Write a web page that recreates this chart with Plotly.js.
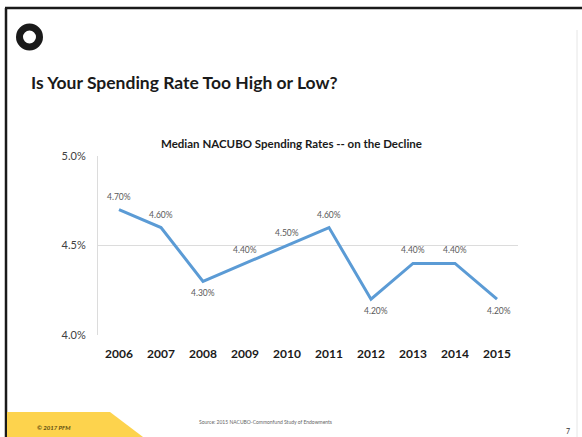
<!DOCTYPE html>
<html>
<head>
<meta charset="utf-8">
<script src="https://cdn.plot.ly/plotly-3.0.1.min.js"></script>
<style>
html,body{margin:0;padding:0;background:#fff;}
#chart{width:582px;height:437px;}
</style>
</head>
<body>
<div id="chart"></div>
<script>
// Data
const years = ['2006','2007','2008','2009','2010','2011','2012','2013','2014','2015'];
const rates = [4.70, 4.60, 4.30, 4.40, 4.50, 4.60, 4.20, 4.40, 4.40, 4.20];
const rateLabels = ['4.70%','4.60%','4.30%','4.40%','4.50%','4.60%','4.20%','4.40%','4.40%','4.20%'];
const labelSide = ['above','above','below','above','above','above','below','above','above','below'];
const yTicks = [4.0, 4.5, 5.0];
const yTickText = ['4.0%', '4.5%', '5.0%'];

// Layout geometry (pixels)
const WIDTH = 582, HEIGHT = 437;
const L = 98, R = 518, T = 156, B = 335;
const px = x => (x - L) / (R - L);
const py = y => (B - y) / (B - T);
const FONT = 'Lato, "Open Sans", sans-serif';

const trace = {
  x: years,
  y: rates,
  type: 'scatter',
  mode: 'lines',
  line: {color: '#5b9bd5', width: 3},
  cliponaxis: false,
  hoverinfo: 'none'
};

const shapes = [
  {type: 'line', xref: 'paper', yref: 'paper', x0: px(5), x1: px(582), y0: py(8), y1: py(8), line: {color: '#1a1a1a', width: 2.5}},
  {type: 'line', xref: 'paper', yref: 'paper', x0: px(6), x1: px(6), y0: py(8), y1: py(437), line: {color: '#1a1a1a', width: 2.5}},
  {type: 'line', xref: 'paper', yref: 'paper', x0: px(577), x1: px(577), y0: py(30), y1: py(437), line: {color: '#e6e6e6', width: 1}},
  {type: 'path', xref: 'paper', yref: 'paper',
   path: 'M ' + px(7) + ',' + py(412) + ' L ' + px(110) + ',' + py(412) + ' L ' + px(143) + ',' + py(437) + ' L ' + px(7) + ',' + py(437) + ' Z',
   fillcolor: '#fdd34d', line: {width: 0}},
  {type: 'circle', xref: 'paper', yref: 'paper', x0: px(19.5), x1: px(39.5), y0: py(27), y1: py(47),
   fillcolor: 'rgba(0,0,0,0)', line: {color: '#1a1a1a', width: 7}}
];

const annotations = [
  {text: 'Is Your Spending Rate Too High or Low?', xref: 'paper', yref: 'paper', x: px(29), y: py(83),
   xanchor: 'left', yanchor: 'middle', showarrow: false,
   font: {family: FONT, size: 17.5, color: '#1a1a1a', weight: 'bold'}},
  {text: 'Median NACUBO Spending Rates -- on the Decline', xref: 'paper', yref: 'paper', x: px(291), y: py(143),
   xanchor: 'center', yanchor: 'middle', showarrow: false,
   font: {family: FONT, size: 11.5, color: '#1a1a1a', weight: 'bold'}},
  {text: 'Source: 2015 NACUBO-Commonfund Study of Endowments', xref: 'paper', yref: 'paper', x: px(265), y: py(422),
   xanchor: 'center', yanchor: 'middle', showarrow: false,
   font: {family: FONT, size: 5, color: '#666666'}},
  {text: '<i>© 2017 PFM</i>', xref: 'paper', yref: 'paper', x: px(35), y: py(427),
   xanchor: 'left', yanchor: 'middle', showarrow: false,
   font: {family: FONT, size: 6, color: '#5a4a10', weight: 'bold'}},
  {text: '7', xref: 'paper', yref: 'paper', x: px(568), y: py(431),
   xanchor: 'center', yanchor: 'middle', showarrow: false,
   font: {family: FONT, size: 7, color: '#333333'}}
];

// data labels, placed through the axes (category index on x)
years.forEach((yr, i) => {
  const up = labelSide[i] === 'above';
  annotations.push({
    x: i, y: rates[i], xref: 'x', yref: 'y', text: rateLabels[i], showarrow: false,
    xanchor: 'center', yanchor: 'middle',
    yshift: up ? 13 : -12, xshift: (i === 6 ? 5 : (i === 9 ? 2 : 0)),
    font: {family: FONT, size: 8.5, color: '#595959'}
  });
});

const layout = {
  width: WIDTH, height: HEIGHT,
  margin: {l: L, r: WIDTH - R, t: T, b: HEIGHT - B, pad: 0},
  paper_bgcolor: '#ffffff', plot_bgcolor: '#ffffff',
  showlegend: false,
  xaxis: {
    type: 'category', categoryorder: 'array', categoryarray: years,
    range: [-0.5, 9.5], showgrid: false, zeroline: false, showline: false,
    ticks: '', ticklabelstandoff: 10,
    tickfont: {family: FONT, size: 12, color: '#1a1a1a', weight: 'bold'},
    fixedrange: true
  },
  yaxis: {
    range: [4.0, 5.0], tickvals: yTicks, ticktext: yTickText,
    showgrid: true, gridcolor: '#dcdcdc', gridwidth: 1, zeroline: false,
    showline: true, linecolor: '#dcdcdc', linewidth: 1,
    ticks: '', ticklabelstandoff: 9,
    tickfont: {family: FONT, size: 11, color: '#404040'},
    fixedrange: true
  },
  shapes: shapes,
  annotations: annotations
};

Plotly.newPlot('chart', [trace], layout, {displayModeBar: false, staticPlot: true});
</script>
</body>
</html>
